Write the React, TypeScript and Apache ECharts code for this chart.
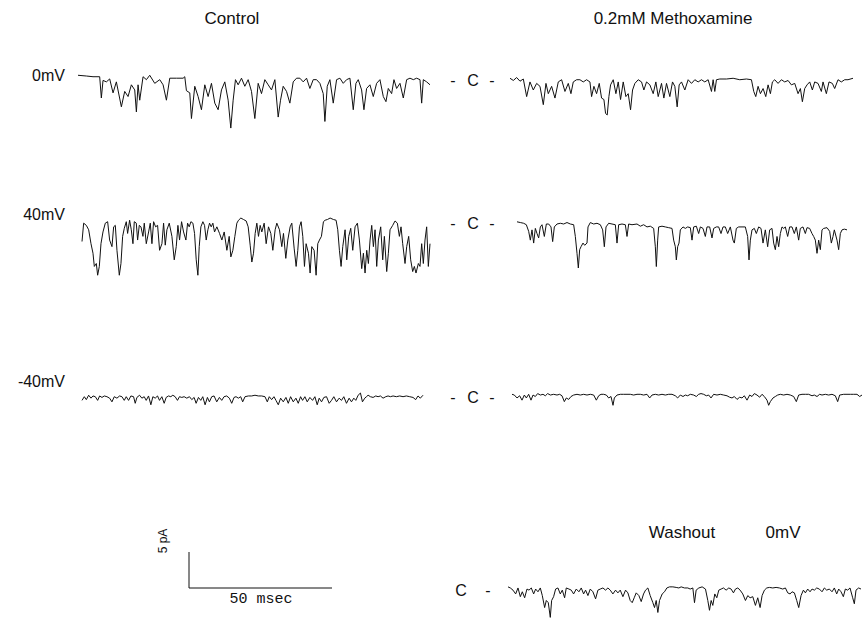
import React, { useEffect, useRef } from "react";
import * as echarts from "echarts";

// Single-channel current traces: [time (ms, arbitrary origin), current (pA)]
const control0mV: number[][] = [[2.5,0.1],[5,0],[7,-0.1],[9,-0.1],[9.5,-3.0],[10,-0.6],[11,-0.8],[12,-0.4],[13,-2.3],[14,-0.8],[15.5,-4.2],[16.5,-2.1],[17.5,-2.8],[18.5,-1.2],[19.5,-1.9],[20,-4.9],[20.5,-1.2],[21,-3.3],[22,-0.1],[23,-0.5],[24,0.1],[25.5,-1.0],[27,-0.5],[28,-1.2],[29,-3.3],[30,-0.3],[32,-0.3],[34,-0.3],[34.5,-0.1],[35,-2.0],[36,-2.3],[36.5,-5.8],[37.5,-1.4],[38.5,-2.8],[39.5,-4.6],[40.5,-1.2],[41.5,-2.8],[42.5,-1.0],[43.5,-3.7],[44.5,-4.6],[45.5,-1.9],[46.5,-0.8],[47.5,-3.3],[48.3,-7.1],[49,-3.3],[49.7,-0.5],[50.5,-1.2],[51.5,-0.3],[52.5,-1.4],[53.5,-0.5],[54.5,-2.1],[55.5,-5.8],[56.5,-1.0],[57.5,-2.4],[58.5,-0.5],[59.5,-1.2],[60.5,-1.9],[61.5,-0.5],[62.5,-5.6],[63.2,-3.3],[64,-1.4],[65,-2.1],[66,-3.7],[67,-0.8],[68,-0.3],[69,-0.3],[70,-0.8],[71,-0.3],[72,-1.7],[73,-0.5],[74,-0.5],[75,-1.0],[76,-2.4],[76.5,-6.2],[77.2,-1.4],[78,-0.5],[79,-3.7],[80,-0.5],[81,-0.3],[82,-1.0],[83,-0.5],[84,-0.3],[85,-4.6],[85.8,-1.0],[86.5,-0.5],[87.5,-1.9],[88.2,-4.6],[89,-1.7],[90,-1.2],[91,-2.8],[92,-1.0],[93,-0.5],[94,-2.8],[94.8,-3.5],[95.5,-1.7],[96.5,-2.4],[97.2,-0.5],[98,-1.7],[99,-1.0],[100,-3.0],[101,-0.5],[102,-0.3],[103,-0.5],[104,-0.3],[105,-0.5],[105.5,-3.7],[106,-0.5],[107,-0.8],[108,-1.2]];

const methox0mV: number[][] = [[21,0.1],[22,-0.2],[23,0.2],[24,-0.3],[25,0],[26,-2.4],[27,-0.4],[28,-1.5],[29,-0.6],[30,-1.0],[31,-3.5],[31.8,-0.6],[32.5,-2.0],[33.5,-1.0],[34.5,-2.6],[35.5,-0.4],[36.5,-0.1],[37.5,-1.7],[38.5,-0.6],[39.3,-2.0],[40,-0.4],[41,-0.1],[42,-0.1],[43,-0.4],[44,-0.1],[45,-0.4],[45.5,-2.4],[46.2,-1.0],[47,-2.0],[47.8,-0.6],[48.5,-2.6],[49.2,-2.8],[49.7,-4.7],[50.2,-4.9],[50.7,-2.4],[51.2,-0.8],[52,-0.1],[52.8,-2.0],[53.5,-0.4],[54.2,-2.8],[55,-0.4],[55.8,-2.4],[56.5,-2.0],[57.2,-4.2],[57.8,-1.5],[58.5,-0.6],[59.5,-0.1],[60.5,-0.4],[61.2,-1.5],[62,-0.4],[63,-0.8],[64,-2.0],[64.8,-0.4],[65.5,-2.4],[66.5,-0.6],[67.2,-2.6],[68,-0.6],[69,-2.4],[69.8,-0.4],[70.5,-1.0],[71.2,-3.8],[71.8,-0.8],[72.5,-0.4],[73.5,-1.5],[74.5,-0.1],[75.5,-0.6],[76.5,-0.1],[77.5,-0.4],[78.5,-0.1],[79.5,-0.4],[80.5,-0.1],[81.5,-1.7],[82,-0.1],[82.5,-1.7],[83,-0.1],[84,0],[86,0],[88,0.1],[90,-0.1],[92,0],[93.5,-0.1],[94.2,-1.7],[94.8,-2.4],[95.5,-1.0],[96.2,-2.0],[97,-1.3],[97.8,-2.4],[98.5,-0.8],[99.2,-2.0],[99.8,-0.4],[100.5,-0.1],[101.5,-0.6],[102.5,-0.1],[103.5,-0.4],[104.5,-0.2],[105.5,-0.8],[106.5,-0.6],[107.5,-2.0],[108.2,-1.3],[108.8,-3.1],[109.5,-1.3],[110.2,-0.8],[111,-0.4],[111.8,-1.5],[112.5,-0.4],[113.5,-0.6],[114.5,-1.7],[115,-0.4],[116,-2.0],[116.8,-0.4],[117.8,-0.6],[118.5,-1.3],[119.5,-0.1],[120.5,-0.4],[121.5,-0.1],[122.5,-0.1],[124,0.1]];

const control40mV: number[][] = [[18.5,-2.7],[19,-0.2],[19.8,-0.5],[20.5,-1.1],[21.2,-3.0],[21.8,-4.3],[22.2,-6.1],[22.8,-5.7],[23.2,-7.3],[23.7,-6.1],[24.2,-3.0],[24.8,-1.4],[25.5,-0.2],[26.2,0],[26.8,-2.5],[27.5,-3.4],[28,-0.7],[28.5,-0.5],[29,-3.9],[29.7,-7.3],[30.2,-5.7],[30.7,-2.0],[31.2,-0.9],[31.8,0],[32.2,-1.6],[32.8,0.2],[33.3,-1.1],[33.8,-3.0],[34.2,0],[34.8,-0.2],[35.2,-2.5],[35.7,-0.5],[36.2,-0.7],[36.8,-2.0],[37.2,-0.2],[37.8,-3.0],[38.5,-1.4],[39,-0.2],[39.5,-3.0],[40,0],[40.6,-0.7],[41.2,-0.5],[41.8,-3.9],[42.5,-3.0],[43,-0.2],[43.5,-3.2],[44,-1.1],[44.7,-0.2],[45.5,-2.0],[46.2,-5.2],[46.8,-3.4],[47.3,-0.5],[47.8,-2.5],[48.4,0],[49,-1.4],[49.7,-2.5],[50.2,-0.2],[50.7,-0.7],[51.2,0],[51.8,-0.2],[52.3,-1.6],[52.8,-5.2],[53.3,-7.3],[53.7,-3.4],[54.2,-0.7],[54.8,0],[55.3,-0.5],[55.8,-2.5],[56.3,-1.1],[56.8,-0.2],[57.3,-0.7],[57.8,-0.2],[58.3,-1.4],[59,-0.7],[59.8,-1.6],[60.5,-2.5],[61.2,-1.4],[62,-3.9],[62.7,-2.0],[63.2,-4.8],[63.8,-3.9],[64.4,-2.0],[65,-0.2],[65.5,0.2],[66.2,0.5],[67,0.3],[67.8,0.1],[68.4,-0.7],[69,-3.2],[69.5,-5.5],[70,-4.3],[70.5,-1.6],[71,-0.2],[71.5,-2.0],[72,-0.5],[72.5,-1.4],[73.2,-0.2],[73.8,-3.0],[74.5,-0.7],[75.2,-1.6],[75.8,-3.9],[76.5,-1.1],[77,-0.2],[77.8,-1.1],[78.5,-3.4],[79,-1.6],[79.7,-5.0],[80.3,-2.5],[81,-0.7],[81.5,-0.2],[82.2,-3.6],[82.8,-6.1],[83.3,-3.9],[83.8,-0.7],[84.3,0],[84.8,-2.0],[85.3,-6.1],[85.8,-3.0],[86.5,-4.3],[87,-7.0],[87.5,-3.4],[88.2,-3.9],[88.8,-7.3],[89.3,-3.0],[89.8,-2.5],[90.4,-2.0],[91,0],[91.5,0.2],[92.2,0.3],[93,0.5],[94,0.3],[94.8,0.2],[95.3,-1.1],[95.8,-3.9],[96.3,-6.1],[96.8,-3.4],[97.5,-1.1],[98,-5.2],[98.6,-2.0],[99.2,-0.9],[99.8,-3.9],[100.5,-0.7],[101.2,-0.2],[101.8,-2.5],[102.5,-6.4],[103,-4.3],[103.5,-7.0],[104,-3.9],[104.5,-5.7],[105,-2.5],[105.5,-0.5],[106,-3.4],[106.5,-1.1],[107,-6.1],[107.5,-2.5],[108.2,-0.7],[108.8,-5.2],[109.3,-2.0],[110,-6.8],[110.5,-4.3],[111,-1.1],[111.8,-0.5],[112.5,0.1],[113.2,-0.2],[113.8,-2.0],[114.3,-0.7],[114.8,-3.0],[115.5,-5.7],[116,-3.4],[116.6,-2.0],[117.2,-5.2],[117.8,-6.8],[118.3,-6.1],[118.8,-7.0],[119.5,-5.7],[120,-6.1],[120.5,-3.0],[121,-5.7],[121.5,-2.5],[122,-0.7],[122.5,-6.1],[123,-3.0]];

const methox40mV: number[][] = [[23,0.3],[24,0.2],[25,0.1],[25.8,-0.1],[26.5,-1.0],[27,-2.2],[27.5,-0.8],[28,-2.6],[28.5,-0.6],[29,-1.3],[29.5,-1.9],[30,-0.4],[30.5,-0.1],[31.2,-1.7],[31.8,0],[32.5,0],[33.2,-0.4],[33.7,-2.4],[34.2,-0.4],[35,0],[36,0.1],[37,0],[38,0.2],[39,0],[40,-0.1],[40.5,-1.7],[41,-4.0],[41.4,-6.0],[41.8,-3.5],[42.2,-3.1],[42.8,-2.6],[43.3,-2.9],[44,-2.6],[44.3,-0.4],[45,0.2],[46,0],[47,0.1],[48,-0.1],[48.7,-0.8],[49.2,-3.1],[49.7,-0.4],[50.5,0.1],[51.5,0],[52.5,-0.1],[53,-2.6],[53.5,-0.1],[54.5,0],[55.5,-0.1],[56,-1.7],[56.5,0],[57.5,-0.1],[59,0],[60,-0.3],[61,-0.1],[62,-0.4],[63,-0.3],[64,-0.6],[64.5,-3.1],[64.8,-5.8],[65.2,-2.2],[65.5,-0.4],[66.5,-0.3],[67.5,-0.4],[68.5,-0.5],[69.5,-0.6],[70,-2.2],[70.5,-3.1],[70.8,-4.9],[71.2,-3.1],[71.6,-2.6],[72,-0.8],[72.8,-0.4],[73.5,-0.6],[74.2,-0.4],[75,-0.5],[75.5,-2.2],[76,-0.4],[76.8,-0.3],[77.5,-1.3],[78,-0.4],[78.8,-0.6],[79.5,-1.7],[80,-0.4],[80.8,-0.4],[81.5,-1.9],[82,-0.6],[82.8,-0.4],[83.5,-0.4],[84.2,-1.3],[84.8,-0.4],[85.5,-0.4],[86.2,-1.3],[87,-0.4],[87.8,-2.2],[88.2,-2.6],[88.8,-0.6],[89.5,-0.4],[90.5,-0.4],[91.5,-0.4],[92.2,-1.7],[92.6,-4.9],[93,-2.2],[93.5,-0.8],[94.2,-0.6],[94.8,-1.3],[95.5,-0.4],[96.2,-0.6],[96.8,-2.6],[97.5,-0.8],[98.2,-3.1],[98.8,-0.8],[99.5,-0.6],[100,-2.6],[100.5,-3.5],[101,-1.7],[101.5,-3.1],[102,-1.3],[102.5,-0.4],[103,-0.6],[103.5,-0.4],[104.2,-1.7],[104.8,-0.4],[105.5,-0.4],[106.2,-1.3],[106.8,-0.4],[107.5,-2.2],[108,-0.6],[108.8,-0.4],[109.5,-1.3],[110,-0.5],[110.8,-0.6],[111.5,-1.3],[112,-1.7],[112.5,-2.2],[113,-4.0],[113.5,-2.2],[114,-3.5],[114.5,-0.8],[115,-0.6],[116,-0.5],[116.8,-1.0],[117.3,-2.6],[117.8,-1.7],[118.2,-0.8],[119,-2.2],[119.5,-3.5],[120,-1.3],[120.5,-0.8],[121.2,-0.7],[122,-0.8]];

const controlM40mV: number[][] = [[18.5,-0.5],[19.2,0],[19.8,-0.4],[20.5,0.2],[21.2,-0.2],[21.8,0.1],[22.5,0],[23.2,-0.5],[23.8,0.1],[24.5,-0.1],[25.2,0.1],[26,0],[26.8,-0.2],[27.5,-0.7],[28.2,0],[29,-0.2],[29.8,0.1],[30.5,0],[31.2,-0.5],[31.8,0],[32.5,-0.5],[33.2,0.1],[34,0],[34.5,-0.9],[35,-0.1],[35.8,0.2],[36.5,-0.2],[37.2,0],[37.8,-0.5],[38.5,0.1],[39.2,-1.1],[39.8,0],[40.5,-0.2],[41.2,0.1],[41.8,-0.5],[42.5,0],[43.2,-0.9],[43.8,-0.1],[44.5,0.1],[45.2,0],[45.8,0.2],[46.5,0],[47.2,-0.5],[47.8,0],[48.5,-0.1],[49.2,0],[50,-0.2],[50.8,0],[51.5,-0.4],[52.2,-0.1],[52.8,-0.9],[53.5,-0.1],[54.2,-0.5],[54.8,0],[55.5,-1.1],[56.2,-0.1],[56.8,-0.7],[57.5,0],[58.2,0.1],[59,-0.7],[59.8,-0.1],[60.5,-0.5],[61.2,0],[62,0.1],[62.8,-0.2],[63.5,-0.9],[64.2,-0.1],[64.8,0],[65.5,-0.2],[66.2,0],[66.8,-0.7],[67.5,0],[68.5,0.1],[69.5,0.1],[70.5,0.2],[71.5,0.1],[72.5,0.1],[73.5,0],[74.2,-0.7],[74.8,0],[75.5,-0.4],[76.2,0],[76.8,-0.5],[77.5,-1.1],[78.2,-0.2],[79,-0.7],[79.8,-0.1],[80.5,-0.9],[81.2,0],[82,-0.7],[82.8,-0.2],[83.5,-0.9],[84.2,0],[84.8,-0.5],[85.5,0],[86.2,-0.7],[87,-0.1],[87.8,-0.5],[88.5,0],[89.2,-1.1],[89.8,-0.2],[90.5,-0.7],[91.2,-0.1],[92,0],[92.8,-0.9],[93.5,-0.5],[94.2,0],[95,-0.7],[95.8,-0.2],[96.5,-0.5],[97.2,0],[98,-0.9],[98.8,-0.2],[99.5,-0.7],[100.2,-0.2],[100.8,-0.5],[101.5,0.2],[102.2,0.5],[102.8,-0.7],[103.5,-0.2],[104,0],[104.5,0.2],[105.2,0],[106,-0.1],[106.8,0.1],[107.5,0],[108.2,0.1],[109,-0.2],[109.8,0],[110.5,0.1],[111.2,0],[112,0.1],[113,0],[114,0.1],[115,0],[116,0.1],[117,0],[118,-0.1],[118.8,-0.4],[119.5,0.1],[120.2,-0.2],[121,0.2]];

const methoxM40mV: number[][] = [[21.5,0],[22.2,-0.1],[23,-0.5],[23.8,-0.2],[24.5,-0.8],[25.2,-0.1],[25.8,-0.5],[26.5,0],[27.2,-0.8],[27.8,-0.1],[28.5,-0.3],[29.2,0.1],[30,-0.1],[30.8,0],[31.5,-0.2],[32.2,0.1],[33,-0.1],[34,0],[35,-0.1],[35.8,0],[36.5,-0.2],[37.2,-1.0],[37.8,-0.5],[38.5,-0.7],[39.2,-0.3],[40,-0.1],[41,0],[42,-0.1],[43,0],[44,-0.1],[45,0],[46,-0.1],[46.8,-0.8],[47.5,-0.2],[48.2,0],[49,0],[49.8,-0.1],[50.5,-0.5],[51.2,-0.3],[51.8,-1.5],[52.2,-0.5],[53,-0.1],[54,0],[55,0],[56,0],[57,0],[58,-0.1],[59,0],[60,0],[61,-0.1],[62,0],[62.8,-0.5],[63.5,-0.1],[64.5,0],[65.5,-0.1],[66.5,0],[67.5,-0.1],[68.5,0],[69.5,0],[70.5,-0.2],[71.2,-0.5],[72,-0.1],[72.8,-0.3],[73.5,-0.1],[74.2,-0.2],[75,0],[76,-0.1],[76.8,-0.3],[77.5,0],[78.2,0.1],[79,0],[79.8,-0.2],[80.5,-0.1],[81.2,-0.5],[82,0],[83,-0.1],[84,0],[85,-0.1],[86,-0.2],[86.8,-0.4],[87.5,-0.5],[88.2,-0.3],[89,-0.7],[89.8,-0.4],[90.5,-0.5],[91.2,-0.2],[92,-0.8],[92.8,-0.1],[93.5,-0.3],[94.2,0.1],[95,-0.1],[95.8,-0.4],[96.5,0],[97.2,-0.3],[98,-0.8],[98.5,-1.5],[99,-1.0],[99.8,-0.5],[100.5,-0.3],[101.2,-0.1],[102,0],[103,-0.1],[104,0],[105,-0.1],[106,-0.3],[106.8,-1.0],[107.5,-0.1],[108.5,0],[109.5,0],[110.5,0],[111.5,-0.2],[112.2,-0.1],[113,-0.3],[113.8,0],[114.5,-0.1],[115.5,0],[116.5,-0.1],[117.5,0],[118.5,-0.2],[119.2,-1.0],[119.8,-0.1],[121,0],[122,0],[123,0],[124,0],[125,0],[125.8,-0.3],[126.5,-0.1]];

const washout0mV: number[][] = [[20.5,0.1],[21.2,-0.1],[22,-0.5],[22.8,-1.2],[23.5,-0.1],[24.2,-1.7],[24.8,-0.8],[25.5,-1.9],[26.2,-0.3],[26.8,-0.5],[27.5,-0.1],[28.2,-1.2],[28.8,-0.3],[29.5,-0.8],[30.2,-0.1],[30.8,-1.5],[31.5,-3.7],[32,-2.4],[32.6,-2.8],[33.2,-5.5],[33.6,-2.4],[34.2,-1.7],[34.8,-0.3],[35.5,-0.1],[36.2,-1.2],[36.8,-0.5],[37.5,-1.9],[38,-0.1],[38.8,-0.3],[39.5,-0.5],[40.2,-1.2],[41,-0.3],[41.8,-0.8],[42.5,-0.1],[43.2,-1.2],[43.8,-0.5],[44.5,-1.5],[45.2,-0.3],[46,-0.8],[46.8,-2.1],[47.5,-0.5],[48.2,-0.3],[49,-0.1],[49.8,-0.5],[50.5,-0.1],[51.2,-0.5],[52,-1.2],[52.8,-0.5],[53.5,-1.0],[54.2,-0.5],[55,-1.7],[55.8,-0.5],[56.5,-1.0],[57.2,-2.4],[57.8,-2.8],[58.4,-1.9],[59,-1.0],[59.8,-1.5],[60.5,-2.6],[61.2,-1.2],[61.8,-0.5],[62.5,-0.1],[63.2,-1.5],[64,-2.8],[64.5,-3.7],[65,-2.4],[65.5,-4.6],[66,-2.4],[66.8,-1.2],[67.5,-0.8],[68.2,-0.1],[69,0.1],[70,0.1],[71,0],[71.8,-0.1],[72.5,0.1],[73.5,-0.1],[74.5,-0.1],[75.2,-0.3],[76,-0.1],[76.5,-2.8],[77,-0.5],[77.8,-0.1],[78.8,0.1],[79.8,-0.3],[80.5,-2.4],[81,-4.2],[81.5,-2.4],[82,-3.3],[82.6,-1.2],[83.2,-1.9],[83.8,-0.5],[84.5,-0.3],[85.2,-0.1],[86,-0.5],[86.8,-0.1],[87.5,-0.3],[88.2,-1.0],[88.8,-0.3],[89.5,-0.1],[90.2,-0.5],[91,-1.2],[91.8,-2.4],[92.5,-1.5],[93.2,-1.9],[94,-1.7],[94.8,-3.3],[95.5,-1.9],[96.2,-3.7],[96.8,-1.5],[97.5,-0.5],[98.2,-0.1],[99,0],[100,-0.1],[101,0],[102,-0.1],[103,-0.3],[103.8,-0.1],[104.5,-1.0],[105.2,-1.2],[105.8,-0.8],[106.5,-1.0],[107.2,-2.4],[107.8,-3.7],[108.5,-1.5],[109.2,-0.5],[109.8,-1.0],[110.5,-0.3],[111.2,-0.8],[111.8,-0.3],[112.5,-0.5],[113.2,-0.1],[114,-0.3],[114.8,-0.8],[115.5,-0.1],[116.2,-0.5],[117,-0.3],[117.8,-0.8],[118.5,-0.1],[119.2,-1.2],[119.8,-0.3],[120.5,-0.8],[121.2,-1.7],[121.8,-0.3],[122.5,-0.5],[123.2,-0.1],[124,-1.9],[124.5,-3.0],[125,-0.5],[125.8,-0.1],[126.5,-0.3]];

const columnTitles = ["Control", "0.2mM Methoxamine"];
const potentialLabels = ["0mV", "40mV", "-40mV"];
const closedLabel = "C";
const washoutLabels = ["Washout", "0mV"];
const scaleLabels = ["5 pA", "50 msec"];

const Y_MIN = -8;
const Y_MAX = 1;
const GRID_H = 66;

const panels = [
  { data: control0mV, left: 78, width: 352, base: 76 },
  { data: methox0mV, left: 510, width: 343, base: 79 },
  { data: control40mV, left: 82, width: 348, base: 221.7 },
  { data: methox40mV, left: 517, width: 330, base: 224 },
  { data: controlM40mV, left: 82, width: 341, base: 396.7 },
  { data: methoxM40mV, left: 512, width: 350, base: 394.3 },
  { data: washout0mV, left: 508, width: 353, base: 589.3 },
];

const FONT = '"Liberation Sans", Arial, Helvetica, sans-serif';

function txt(text: string, x: number, y: number, size: number, align = "center", family = FONT, rotation = 0) {
  return {
    type: "text",
    x,
    y,
    rotation,
    silent: true,
    style: {
      text,
      fill: "#111",
      font: `${size}px ${family}`,
      fontSize: size,
      fontFamily: family,
      textAlign: align,
      align,
      textVerticalAlign: "middle",
      verticalAlign: "middle",
    },
  };
}

export default function App() {
  const ref = useRef<HTMLDivElement>(null);

  useEffect(() => {
    const chart = echarts.init(ref.current!, null, { renderer: "svg" });
    const pxPerPA = GRID_H / (Y_MAX - Y_MIN);
    const grid = panels.map((p) => ({
      left: p.left,
      width: p.width,
      top: p.base - Y_MAX * pxPerPA,
      height: GRID_H,
    }));
    const xAxis = panels.map((_, i) => ({
      type: "value",
      gridIndex: i,
      min: "dataMin",
      max: "dataMax",
      show: false,
    }));
    const yAxis = panels.map((_, i) => ({
      type: "value",
      gridIndex: i,
      min: Y_MIN,
      max: Y_MAX,
      show: false,
    }));
    const series = panels.map((p, i) => ({
      type: "line",
      xAxisIndex: i,
      yAxisIndex: i,
      data: p.data,
      symbol: "none",
      showSymbol: false,
      silent: true,
      clip: false,
      lineStyle: { color: "#111", width: 1 },
    }));

    const graphic: any[] = [
      txt(columnTitles[0], 232, 18, 17),
      txt(columnTitles[1], 673, 18, 17),
      txt(potentialLabels[0], 65, 75, 16, "right"),
      txt(potentialLabels[1], 65, 214, 16, "right"),
      txt(potentialLabels[2], 65, 381, 16, "right"),
    ];
    const cRows = [80, 223, 397];
    cRows.forEach((y) => {
      graphic.push(txt("-", 453, y, 16));
      graphic.push(txt(closedLabel, 473, y, 16));
      graphic.push(txt("-", 492, y, 16));
    });
    graphic.push(txt(closedLabel, 461, 590, 16));
    graphic.push(txt("-", 488, 590, 16));
    graphic.push(txt(washoutLabels[0], 682, 532, 17));
    graphic.push(txt(washoutLabels[1], 783, 532, 17));
    graphic.push(txt(scaleLabels[0], 163, 541, 12, "center", FONT, Math.PI / 2));
    graphic.push(txt(scaleLabels[1], 261, 599, 15, "center", '"Liberation Mono", "DejaVu Sans Mono", monospace'));
    graphic.push({
      type: "line",
      silent: true,
      shape: { x1: 189, y1: 552, x2: 189, y2: 588 },
      style: { stroke: "#111", lineWidth: 1 },
    });
    graphic.push({
      type: "line",
      silent: true,
      shape: { x1: 189, y1: 588, x2: 332, y2: 588 },
      style: { stroke: "#111", lineWidth: 1 },
    });

    chart.setOption({
      animation: false,
      backgroundColor: "#fff",
      grid,
      xAxis,
      yAxis,
      series,
      graphic,
    });
    return () => chart.dispose();
  }, []);

  return (
    <div
      ref={ref}
      style={{ position: "fixed", left: 0, top: 0, width: 863, height: 631, background: "#fff" }}
    />
  );
}
